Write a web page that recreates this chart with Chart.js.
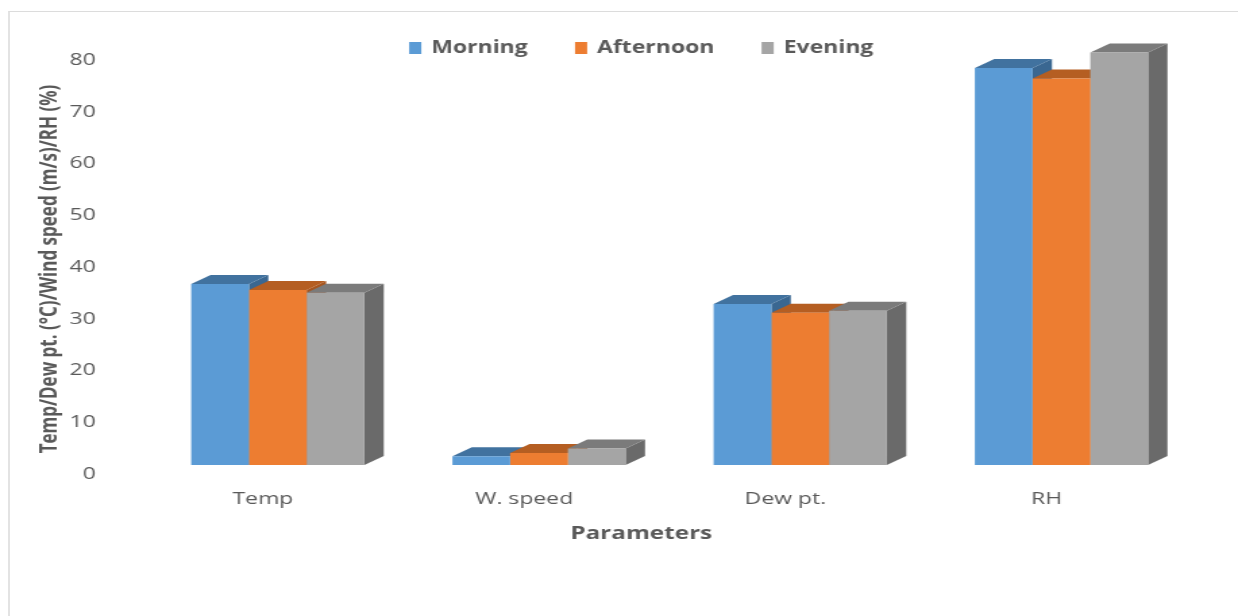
<!DOCTYPE html>
<html>
<head>
<meta charset="utf-8">
<script src="https://cdn.jsdelivr.net/npm/chart.js@4.4.1/dist/chart.umd.min.js"></script>
<style>
  html, body { margin: 0; padding: 0; background: #fff; overflow: hidden; }
  #frame { position: absolute; left: 8px; top: 11px; width: 1300px; height: 700px;
           border-left: 2px solid #e3e3e3; border-top: 1px solid #dcdcdc; }
  /* the source picture is an Excel chart stretched sideways, so the canvas is too */
  #chart { position: absolute; left: 0; top: 0; transform: scaleX(1.35); transform-origin: 0 0; }
</style>
</head>
<body>
<div id="frame"></div>
<canvas id="chart" width="917" height="616"></canvas>
<script>
const categories = ["Temp", "W. speed", "Dew pt.", "RH"];
const seriesNames = ["Morning", "Afternoon", "Evening"];
const morning = [35.0, 1.7, 31.1, 76.7];
const afternoon = [33.8, 2.3, 29.4, 74.7];
const evening = [33.3, 3.2, 29.8, 79.7];
const yTicks = [0, 10, 20, 30, 40, 50, 60, 70, 80];

const frontColors = ["#5B9BD5", "#ED7D31", "#A5A5A5"];
const topColors = ["#41729F", "#B55E22", "#7B7B7B"];
const sideColors = ["#3A6791", "#A65620", "#6A6A6A"];
const textColor = "#595959";
const DEPTH_X = 14.4;
const DEPTH_Y = 9;

// top and side faces, drawn before the front faces so they sit behind them
const bar3d = {
  id: "bar3d",
  beforeDatasetsDraw(chart) {
    const ctx = chart.ctx;
    chart.data.datasets.forEach((ds, i) => {
      const meta = chart.getDatasetMeta(i);
      meta.data.forEach((el) => {
        const { x, y, base, width } = el.getProps(["x", "y", "base", "width"], true);
        const l = x - width / 2;
        const r = x + width / 2;
        ctx.save();
        ctx.fillStyle = sideColors[i];
        ctx.beginPath();
        ctx.moveTo(r, y);
        ctx.lineTo(r + DEPTH_X, y - DEPTH_Y);
        ctx.lineTo(r + DEPTH_X, base - DEPTH_Y);
        ctx.lineTo(r, base);
        ctx.closePath();
        ctx.fill();
        ctx.fillStyle = topColors[i];
        ctx.beginPath();
        ctx.moveTo(l, y);
        ctx.lineTo(l + DEPTH_X, y - DEPTH_Y);
        ctx.lineTo(r + DEPTH_X, y - DEPTH_Y);
        ctx.lineTo(r, y);
        ctx.closePath();
        ctx.fill();
        ctx.restore();
      });
    });
  },
};

// legend sits over the top of the plot, like in the Excel picture
const topLegend = {
  id: "topLegend",
  afterDraw(chart) {
    const ctx = chart.ctx;
    ctx.save();
    ctx.font = "bold 17px 'Open Sans'";
    ctx.textBaseline = "middle";
    const box = 9, gap = 7.4, between = 35, cy = 48, cx = 475;
    const items = chart.data.datasets.map((ds) => ({ text: ds.label, color: ds.backgroundColor, w: ctx.measureText(ds.label).width }));
    const total = items.reduce((s, it) => s + box + gap + it.w, 0) + between * (items.length - 1);
    let x = cx - total / 2;
    items.forEach((it) => {
      ctx.fillStyle = it.color;
      ctx.fillRect(x, cy - 6, box, 12);
      ctx.fillStyle = textColor;
      ctx.fillText(it.text, x + box + gap, cy);
      x += box + gap + it.w + between;
    });
    ctx.restore();
  },
};

const ctx = document.getElementById("chart").getContext("2d");
new Chart(ctx, {
  type: "bar",
  data: {
    labels: categories,
    datasets: [morning, afternoon, evening].map((vals, i) => ({
      label: seriesNames[i],
      data: vals,
      backgroundColor: frontColors[i],
      borderWidth: 0,
      categoryPercentage: 0.663,
      barPercentage: 1.0,
    })),
  },
  options: {
    responsive: false,
    devicePixelRatio: 1,
    animation: false,
    layout: { padding: { top: 51, left: 0, right: 34, bottom: 0 } },
    plugins: {
      legend: { display: false },
      tooltip: { enabled: false },
    },
    scales: {
      x: {
        grid: { display: false },
        border: { display: false },
        ticks: { color: textColor, font: { family: "Open Sans", size: 17 }, padding: 16, labelOffset: -11 },
        title: {
          display: true,
          text: "Parameters" + "\u00a0".repeat(9),
          color: textColor,
          font: { family: "Open Sans", size: 18, weight: "bold" },
          padding: { top: 0, bottom: 71 },
        },
        afterFit: (scale) => { scale.height = 151; },
      },
      y: {
        min: 0,
        max: 80,
        grid: { display: false },
        border: { display: false },
        afterBuildTicks: (scale) => { scale.ticks = yTicks.map((v) => ({ value: v })); },
        ticks: { color: textColor, font: { family: "Open Sans", size: 17 }, padding: 30, labelOffset: 9 },
        title: {
          display: true,
          text: "Temp/Dew pt. (°C)/Wind speed (m/s)/RH (%)" + "\u00a0".repeat(5),
          color: textColor,
          font: { family: "Open Sans", size: 17, weight: "bold" },
          padding: { top: 27, bottom: 0 },
        },
        afterFit: (scale) => { scale.width = 109; },
      },
    },
  },
  plugins: [bar3d, topLegend],
});
</script>
</body>
</html>
